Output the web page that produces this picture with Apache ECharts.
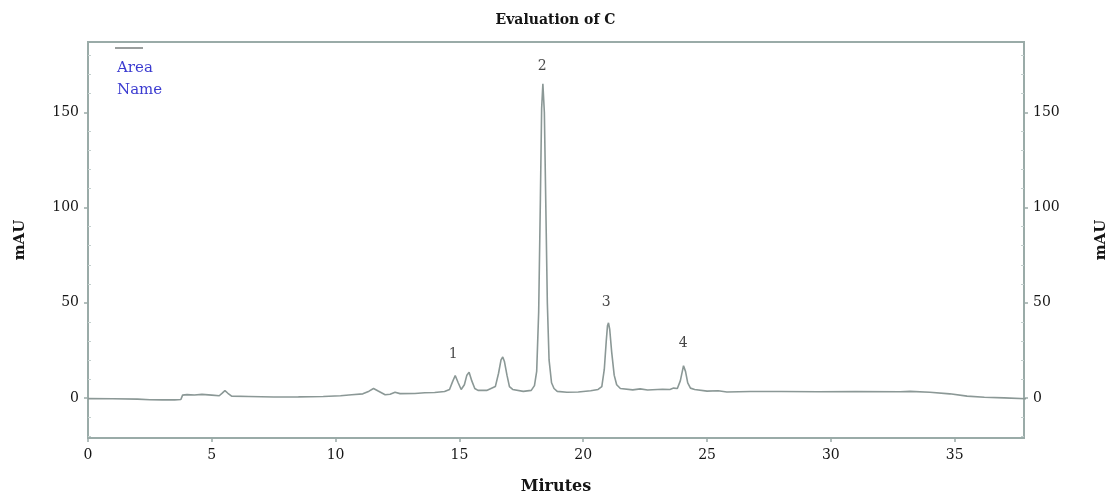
<!DOCTYPE html>
<html>
<head>
<meta charset="utf-8">
<script src="https://cdn.jsdelivr.net/npm/echarts@6/dist/echarts.min.js"></script>
<style>
    html, body { margin: 0; padding: 0; background: #fff; }
    #chart { width: 1111px; height: 494px; }
</style>
</head>
<body>
<div id="chart"></div>
<script>
// 保留时间 (min) 与 吸光度 (mAU)
const minutes = [
    0, 1, 2, 2.5, 3, 3.5, 3.75, 3.82, 4.0, 4.3, 4.6, 5.0, 5.3, 5.42, 5.53, 5.65, 5.8,
    6.5, 7.5, 8.5, 9.5, 10.2, 10.65, 11.1, 11.35, 11.53, 11.7, 12.0, 12.2, 12.4, 12.6, 13.2,
    13.6, 14.0, 14.4, 14.6, 14.72, 14.83, 14.95, 15.07, 15.2, 15.3, 15.39, 15.5, 15.62, 15.75,
    16.1, 16.45, 16.58, 16.68, 16.75, 16.82, 16.92, 17.02, 17.15, 17.58, 17.9, 18.03,
    18.12, 18.2, 18.27, 18.32, 18.37, 18.43, 18.49, 18.55, 18.62, 18.72, 18.82, 18.95,
    19.34, 19.8, 20.3, 20.6, 20.75, 20.85, 20.93, 20.98, 21.02, 21.07, 21.15, 21.25, 21.35, 21.5,
    22.0, 22.3, 22.6, 23.2, 23.5, 23.65, 23.8, 23.92, 24.05, 24.13, 24.22, 24.33, 24.5,
    25.0, 25.45, 25.8, 26.75, 28.0, 29.5, 31.0, 32.8, 33.2, 34.0, 34.8, 35.5, 36.2, 37.0, 37.9
];
const mAU = [
    -0.3, -0.4, -0.6, -0.9, -1.0, -1.0, -0.8, 1.5, 1.8, 1.6, 1.9, 1.5, 1.2, 2.6, 3.9, 2.5, 1.0,
    0.8, 0.5, 0.6, 0.8, 1.2, 1.7, 2.2, 3.6, 5.0, 3.8, 1.7, 2.0, 3.0, 2.3, 2.4,
    2.8, 2.9, 3.4, 4.5, 8.5, 11.8, 8.0, 4.5, 7.0, 12.0, 13.5, 9.0, 5.0, 4.0,
    4.0, 6.0, 13.0, 20.0, 21.6, 19.0, 12.0, 6.0, 4.5, 3.5, 4.0, 6.5,
    14, 45, 105, 152, 165, 150, 100, 50, 20, 8, 5.0, 3.5,
    3.0, 3.2, 3.8, 4.5, 6.0, 15.0, 30.0, 38.0, 39.5, 36.0, 24.0, 12.0, 7.0, 5.0,
    4.3, 4.8, 4.2, 4.6, 4.5, 5.2, 5.0, 9.0, 17.0, 14.0, 8.0, 5.2, 4.5,
    3.6, 3.8, 3.2, 3.4, 3.4, 3.3, 3.4, 3.3, 3.5, 3.0, 2.2, 1.0, 0.4, 0.1, -0.4
];
// 峰标号及其位置
const peakNames = ['1', '2', '3', '4'];
const peakLabelX = [14.75, 18.34, 20.93, 24.04];
const peakLabelY = [22.8, 174, 50, 28.5];
// 刻度
const yTicks = [0, 50, 100, 150];
const yMinorTicks = [-20, -10, 10, 20, 30, 40, 60, 70, 80, 90, 110, 120, 130, 140, 160, 170, 180];

let axisColor = '#9aaba8';
let textColor = '#151515';
let serif = 'DejaVu Serif';

let traceData = minutes.map(function (t, i) {
    return [t, mAU[i]];
});
let labelData = peakNames.map(function (n, i) {
    return {value: [peakLabelX[i], peakLabelY[i]], name: n};
});

function valueAxis(position, withName) {
    return {
        type: 'value',
        position: position,
        min: -21,
        max: 187,
        name: withName ? 'mAU' : '',
        nameLocation: 'middle',
        nameRotate: 90,
        nameGap: position === 'left' ? 60 : 70,
        nameTextStyle: {
            fontFamily: serif,
            fontWeight: 'bold',
            fontSize: 15,
            color: textColor
        },
        axisLine: {show: withName, lineStyle: {color: axisColor, width: 2}},
        axisTick: withName ? {
            show: true,
            inside: false,
            length: 4,
            customValues: yTicks,
            lineStyle: {color: axisColor, width: 1.5}
        } : {
            show: true,
            inside: true,
            length: 3,
            customValues: yMinorTicks,
            lineStyle: {color: '#c4d0ce', width: 1}
        },
        axisLabel: withName ? {
            show: true,
            customValues: yTicks,
            margin: 9,
            fontFamily: serif,
            fontSize: 14,
            color: textColor
        } : {show: false},
        splitLine: {show: false}
    };
}

let chart = echarts.init(document.getElementById('chart'));

let option = {
    backgroundColor: '#fff',
    animation: false,
    title: {
        text: 'Evaluation of C',
        left: 'center',
        top: 8,
        textStyle: {
            fontFamily: serif,
            fontWeight: 'bold',
            fontSize: 14,
            color: textColor
        }
    },
    grid: {
        left: 88,
        right: 87,
        top: 42,
        bottom: 56,
        outerBoundsMode: 'none',
        show: true,
        borderColor: axisColor,
        borderWidth: 2
    },
    xAxis: {
        type: 'value',
        min: 0,
        max: 37.8,
        interval: 5,
        name: 'Mirutes',
        nameLocation: 'middle',
        nameGap: 41,
        nameTextStyle: {
            fontFamily: serif,
            fontWeight: 'bold',
            fontSize: 16,
            color: textColor
        },
        axisLine: {onZero: false, lineStyle: {color: axisColor, width: 2}},
        axisTick: {length: 4, lineStyle: {color: axisColor, width: 1.5}},
        axisLabel: {
            margin: 10,
            fontFamily: serif,
            fontSize: 14,
            color: textColor,
            showMaxLabel: false
        },
        splitLine: {show: false}
    },
    yAxis: [
        valueAxis('left', true),
        valueAxis('right', true),
        valueAxis('left', false),
        valueAxis('right', false)
    ],
    graphic: [
        {
            type: 'line',
            shape: {x1: 115, y1: 48, x2: 143, y2: 48},
            style: {stroke: '#9a9e9d', lineWidth: 2}
        },
        {
            type: 'text',
            left: 117,
            top: 57,
            style: {
                text: 'Area\nName',
                fill: '#3b3bd0',
                font: '15px "DejaVu Serif"',
                lineHeight: 22
            }
        }
    ],
    series: [
        {
            name: 'trace',
            type: 'line',
            data: traceData,
            showSymbol: false,
            symbol: 'none',
            lineStyle: {color: '#8b9896', width: 1.6},
            z: 3
        },
        {
            name: 'peaks',
            type: 'scatter',
            data: labelData,
            symbolSize: 0,
            label: {
                show: true,
                position: 'inside',
                formatter: '{b}',
                fontFamily: serif,
                fontSize: 14,
                color: textColor
            },
            z: 4
        }
    ]
};

chart.setOption(option);
</script>
</body>
</html>
